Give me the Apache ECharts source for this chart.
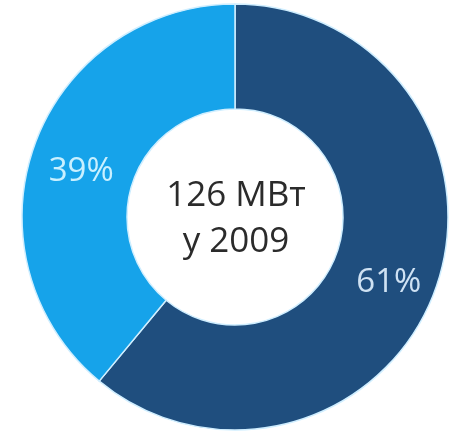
<!DOCTYPE html>
<html>
<head>
<meta charset="utf-8">
<script src="https://cdn.jsdelivr.net/npm/echarts@6/dist/echarts.min.js"></script>
<style>
  html, body { margin: 0; padding: 0; background: #fff; }
  #donut { width: 452px; height: 434px; }
</style>
</head>
<body>
<div id="donut"></div>
<script>
// доли потужності
const categories = ['A', 'B']
const shares = [61, 39]
const sliceColors = ['#1f4e7e', '#16a3ea']
const labelColors = ['#cfe2f3', '#c9f0ff']
const centerLines = ['126 МВт', 'у 2009']

const chart = echarts.init(document.getElementById('donut'))

chart.setOption({
  animation: false,
  backgroundColor: '#fff',
  graphic: [
    {
      type: 'text',
      x: 236,
      y: 219,
      style: {
        text: centerLines.join('\n'),
        font: '35px "Open Sans", sans-serif',
        lineHeight: 46,
        fill: '#2b2b2b',
        align: 'center',
        verticalAlign: 'middle'
      },
      z: 10
    }
  ],
  series: [
    {
      type: 'pie',
      center: [235, 217],
      radius: [108, 213],
      startAngle: 90,
      clockwise: true,
      label: {
        position: 'inside',
        // пустий рядок зверху зсуває підпис трохи нижче
        formatter: '\n{d}%',
        fontSize: 33,
        lineHeight: 20,
        fontFamily: '"Open Sans", sans-serif'
      },
      labelLine: { show: false },
      itemStyle: {
        borderColor: '#cfeeff',
        borderWidth: 1.5
      },
      emphasis: { disabled: true },
      data: categories.map((c, i) => ({
        name: c,
        value: shares[i],
        itemStyle: { color: sliceColors[i] },
        label: { color: labelColors[i] }
      }))
    }
  ]
})
</script>
</body>
</html>
